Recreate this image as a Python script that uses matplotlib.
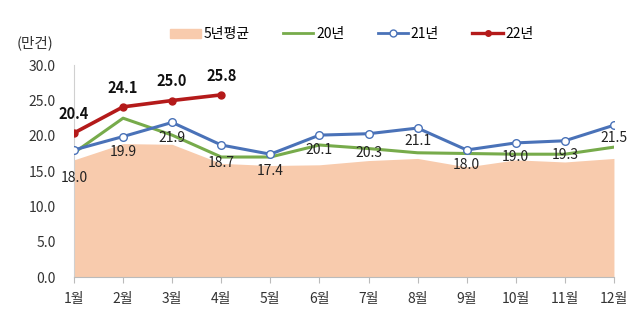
import matplotlib
matplotlib.use("Agg")
import matplotlib.pyplot as plt
from matplotlib.patches import Patch
from matplotlib.lines import Line2D

plt.rcParams['font.family'] = ['Noto Sans CJK KR', 'DejaVu Sans']

months = ['1월', '2월', '3월', '4월', '5월', '6월',
          '7월', '8월', '9월', '10월', '11월', '12월']
avg_5yr = [16.6, 18.9, 18.8, 16.1, 15.8, 15.9, 16.5, 16.8, 15.6, 16.6, 16.3, 16.8]
y2020 = [17.6, 22.5, 20.1, 17.0, 17.0, 18.7, 18.2, 17.6, 17.5, 17.4, 17.4, 18.4]
y2021 = [18.0, 19.9, 21.9, 18.7, 17.4, 20.1, 20.3, 21.1, 18.0, 19.0, 19.3, 21.5]
y2022 = [20.4, 24.1, 25.0, 25.8]

# label offsets (points) under the 21년 markers
offs_2021 = [-15, -6, -6, -8, -7, -6, -9, -4, -6, -5, -5, -4]

C_FILL = '#F8CBAD'
C_GREEN = '#77AB4B'
C_BLUE = '#4A72B8'
C_RED = '#B41A1A'


def plot():
    fig = plt.figure(figsize=(6.4, 3.26), dpi=100)
    ax = fig.add_axes([0.1156, 0.150, 0.8437, 0.650])
    x = list(range(len(months)))

    ax.fill_between(x, 0, avg_5yr, color=C_FILL, lw=0, zorder=1)
    ax.plot(x, y2020, color=C_GREEN, lw=2.2, zorder=2)
    ax.plot(x, y2021, color=C_BLUE, lw=2.2, marker='o', ms=5.5,
            mfc='white', mec=C_BLUE, mew=1.0, zorder=3)
    ax.plot(x[:len(y2022)], y2022, color=C_RED, lw=2.6, marker='o', ms=5,
            mfc=C_RED, mec=C_RED, zorder=4)

    for i, v in enumerate(y2021):
        ax.annotate(f'{v:.1f}', (i, v), xytext=(0, offs_2021[i]),
                    textcoords='offset points', ha='center', va='top',
                    fontsize=10, color='#222222', zorder=5)
    for i, v in enumerate(y2022):
        ax.annotate(f'{v:.1f}', (i, v), xytext=(0, 8),
                    textcoords='offset points', ha='center', va='bottom',
                    fontsize=10.5, fontweight='bold', color='#111111', zorder=5)

    ax.set_xlim(0, 11)
    ax.set_ylim(0, 30)
    ax.set_xticks(x)
    ax.set_xticklabels(months, fontsize=10, color='#333333')
    ax.set_yticks([0, 5, 10, 15, 20, 25, 30])
    ax.set_yticklabels([f'{t:.1f}' for t in [0, 5, 10, 15, 20, 25, 30]],
                       fontsize=10, color='#333333')
    ax.tick_params(axis='x', length=4, color='#BBBBBB', pad=7)
    ax.tick_params(axis='y', length=0, pad=13)

    for s in ['top', 'right']:
        ax.spines[s].set_visible(False)
    ax.spines['left'].set_color('#D0D0D0')
    ax.spines['bottom'].set_color('#BBBBBB')

    fig.text(0.026, 0.870, '(만건)', fontsize=10.5, color='#333333',
             va='center')

    handles = [
        Patch(color=C_FILL),
        Line2D([], [], color=C_GREEN, lw=2),
        Line2D([], [], color=C_BLUE, lw=2, marker='o', ms=5,
               mfc='white', mec=C_BLUE),
        Line2D([], [], color=C_RED, lw=2.4, marker='o', ms=4, mfc=C_RED),
    ]
    fig.legend(handles, ['5년평균', '20년', '21년', '22년'],
               loc='center', bbox_to_anchor=(0.55, 0.895), ncol=4,
               frameon=False, fontsize=10, handlelength=2.2,
               handletextpad=0.2, columnspacing=2.4)

    fig.savefig('out.png', dpi=100)


if __name__ == '__main__':
    plot()
